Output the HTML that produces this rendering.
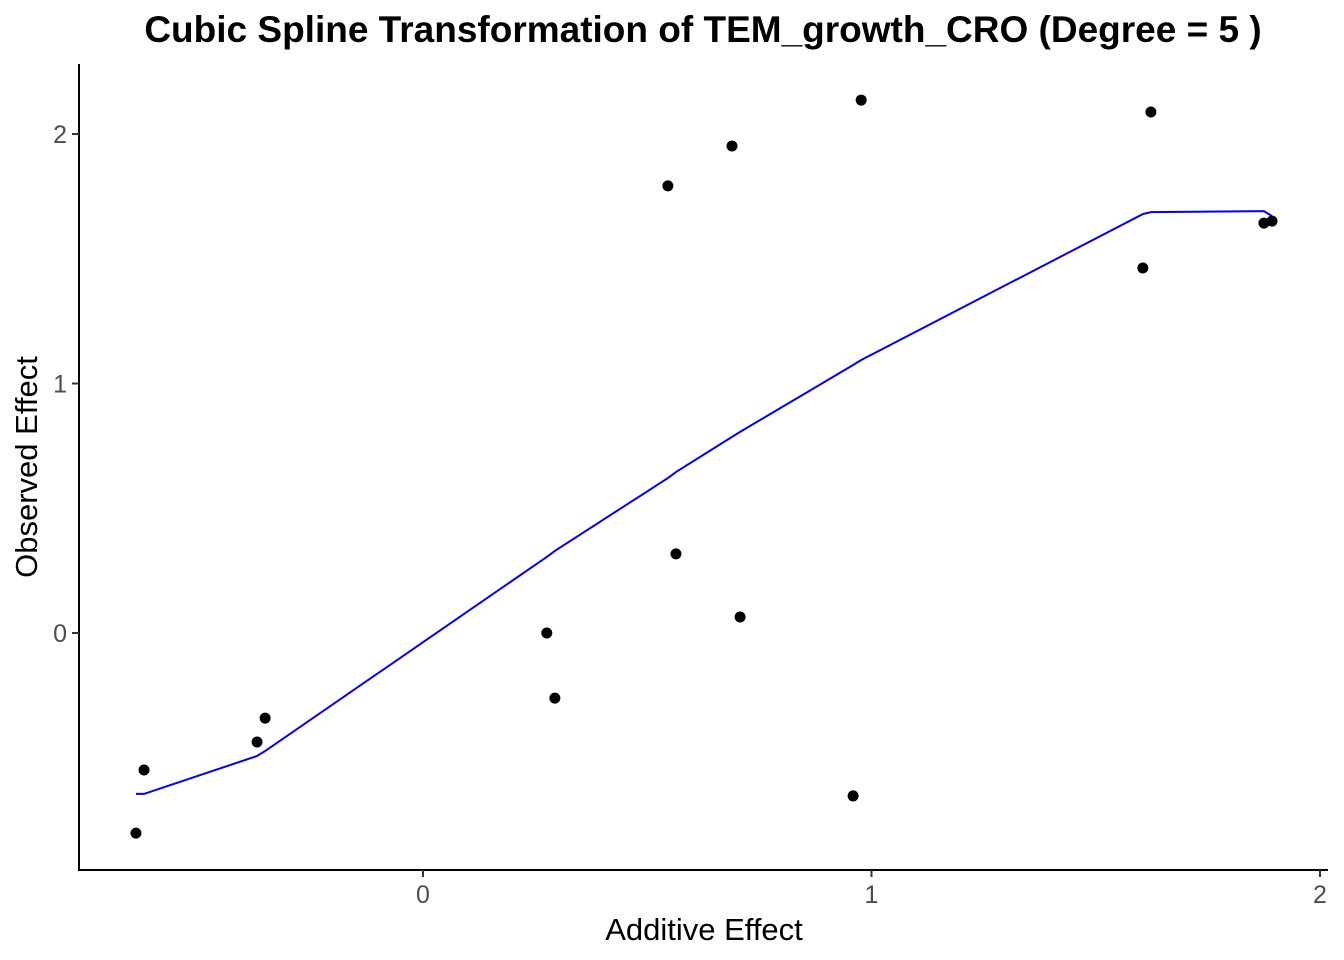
<!DOCTYPE html>
<html><head><meta charset="utf-8"><style>
body{margin:0;background:#fff;}
svg{display:block;font-family:"Liberation Sans",Arial,sans-serif;}
</style></head><body>
<svg id="chart" width="1344" height="960">
<text x="703" y="42" text-anchor="middle" font-size="37" font-weight="bold">Cubic Spline Transformation of TEM_growth_CRO (Degree = 5 )</text>
<line x1="79" y1="64" x2="79" y2="871" stroke="#000" stroke-width="2"/>
<line x1="78" y1="870" x2="1328" y2="870" stroke="#000" stroke-width="2"/>
<g id="ticks"></g>
<path id="spline" fill="none" stroke="#0000ff" stroke-width="2"/>
<g id="points"></g>
<text x="704" y="940" text-anchor="middle" font-size="31">Additive Effect</text>
<text transform="translate(37,467) rotate(-90)" text-anchor="middle" font-size="31">Observed Effect</text>
</svg>
<script>
const xVals=[-0.640,-0.622,-0.370,-0.352,0.276,0.294,0.546,0.564,0.689,0.707,0.959,0.977,1.605,1.623,1.875,1.893];
const yObs=[-0.802,-0.549,-0.437,-0.341,0.0,-0.261,1.792,0.317,1.952,0.064,-0.653,2.136,1.463,2.088,1.643,1.651];
const yFit=[-0.645,-0.645,-0.493,-0.473,0.305,0.329,0.621,0.645,0.786,0.806,1.074,1.094,1.679,1.687,1.691,1.671];
const xTicks=[0,1,2];
const yTicks=[0,1,2];
const sx=v=>423+v*448.5;
const sy=v=>633-v*249.5;
const NS="http://www.w3.org/2000/svg";
const tg=document.getElementById('ticks');
xTicks.forEach(t=>{
  const l=document.createElementNS(NS,'line');
  l.setAttribute('x1',sx(t));l.setAttribute('x2',sx(t));l.setAttribute('y1',870);l.setAttribute('y2',877);
  l.setAttribute('stroke','#333');l.setAttribute('stroke-width','2');
  
  
  tg.appendChild(l);
  const tx=document.createElementNS(NS,'text');
  tx.setAttribute('x',sx(t));tx.setAttribute('y',903);tx.setAttribute('text-anchor','middle');
  tx.setAttribute('font-size','25');tx.setAttribute('fill','#4d4d4d');tx.textContent=t;
  
  
  tg.appendChild(tx);
});
yTicks.forEach(t=>{
  const l=document.createElementNS(NS,'line');
  l.setAttribute('x1',72);l.setAttribute('x2',79);l.setAttribute('y1',sy(t));l.setAttribute('y2',sy(t));
  l.setAttribute('stroke','#333');l.setAttribute('stroke-width','2');
  
  
  tg.appendChild(l);
  const tx=document.createElementNS(NS,'text');
  tx.setAttribute('x',67);tx.setAttribute('y',sy(t)+9);tx.setAttribute('text-anchor','end');
  tx.setAttribute('font-size','25');tx.setAttribute('fill','#4d4d4d');tx.textContent=t;
  
  
  tg.appendChild(tx);
});
document.getElementById('spline').setAttribute('d',xVals.map((x,i)=>(i?'L':'M')+sx(x)+','+sy(yFit[i])).join(''));
const pg=document.getElementById('points');
xVals.forEach((x,i)=>{
  const c=document.createElementNS(NS,'circle');
  c.setAttribute('cx',sx(x));c.setAttribute('cy',sy(yObs[i]));c.setAttribute('r',5.5);c.setAttribute('fill','#000');
  
  
  pg.appendChild(c);
});
</script>
</body></html>
